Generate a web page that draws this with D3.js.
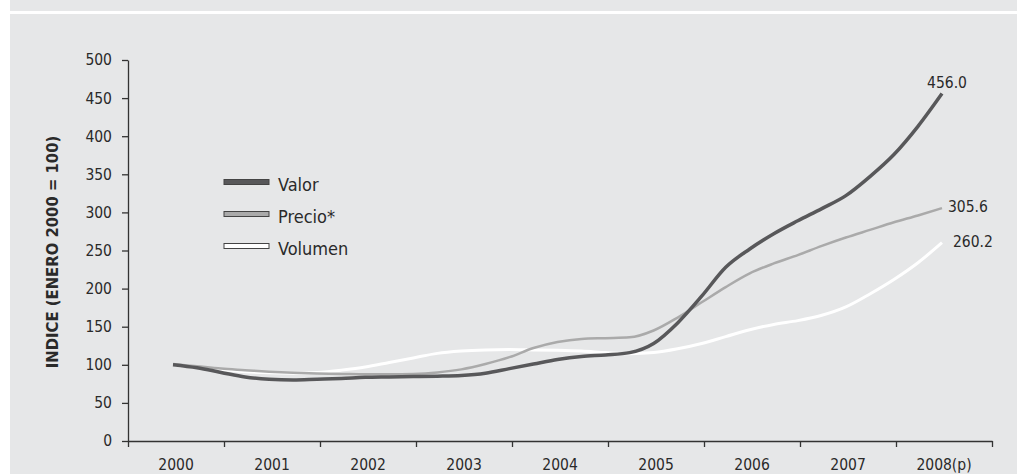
<!DOCTYPE html>
<html>
<head>
<meta charset="utf-8">
<script src="https://cdn.jsdelivr.net/npm/d3@7"></script>
<style>
  html, body { margin: 0; padding: 0; background: #ffffff; }
  svg { display: block; }
  text { font-family: "DejaVu Sans", sans-serif; font-stretch: condensed; fill: #2a2a2a; }
</style>
</head>
<body>
<svg id="chart" width="1017" height="474"></svg>
<script>
// ---- data ----
const categories = ["2000", "2001", "2002", "2003", "2004", "2005", "2006", "2007", "2008(p)"];
const yTicks = [0, 50, 100, 150, 200, 250, 300, 350, 400, 450, 500];
const times = [2000, 2000.25, 2000.5, 2000.75, 2001, 2001.25, 2001.5, 2001.75,
               2002, 2002.25, 2002.5, 2002.75, 2003, 2003.25, 2003.5, 2003.75,
               2004, 2004.25, 2004.5, 2004.75, 2005, 2005.25, 2005.5, 2005.75,
               2006, 2006.25, 2006.5, 2006.75, 2007, 2007.25, 2007.5, 2007.75, 2008];
const valor = [100, 96, 90, 84, 81, 80, 81, 82,
               83.5, 84, 84.5, 85, 86, 89, 95, 101,
               107, 111, 113, 116, 128, 155, 190, 228,
               252, 272, 289, 305, 322, 347, 376, 413, 456.0];
const precio = [101, 98, 95, 93, 91, 89.5, 88.5, 88,
                87.5, 87.5, 88, 90, 94, 101, 110, 122,
                130, 134, 135, 136, 145, 162, 182, 202,
                220, 233, 244, 256, 267, 277, 287, 296, 305.6];
const volumen = [100, 97, 94, 91, 89.5, 89, 90, 93,
                 97, 103, 109, 115, 118, 119.5, 120, 119.5,
                 119, 118, 116, 114.5, 116, 121, 128, 137,
                 146, 153, 158, 165, 176, 193, 212, 234, 260.2];
const seriesNames = ["Valor", "Precio*", "Volumen"];
const endLabels = ["456.0", "305.6", "260.2"];

// ---- styles ----
const colors = ["#58585a", "#aaaaaa", "#ffffff"];
const widths = [3.5, 2.5, 3];

const svg = d3.select("#chart");
const W = 1017, H = 474;

// background panels
svg.append("rect").attr("x", 10).attr("y", 0).attr("width", W - 10).attr("height", 11).attr("fill", "#e6e7e8");
svg.append("rect").attr("x", 10).attr("y", 14).attr("width", W - 10).attr("height", H - 14).attr("fill", "#e6e7e8");

const plot = { left: 128, right: 992, top: 60, bottom: 441 };

const xBand = d3.scaleBand().domain(categories).range([plot.left, plot.right]);
const xEdge = d3.scaleLinear().domain([0, categories.length]).range([plot.left, plot.right]);
const xTime = d3.scaleLinear().domain([2000, 2008])
  .range([xBand("2000") + xBand.bandwidth() / 2 - 3, xBand("2008(p)") + xBand.bandwidth() / 2 - 2]);
const y = d3.scaleLinear().domain([0, 500]).range([plot.bottom, plot.top]);

const FONT = "'DejaVu Sans', sans-serif";

// y axis
const yAxis = svg.append("g").attr("transform", `translate(${plot.left},0)`)
  .call(d3.axisLeft(y).tickValues(yTicks).tickSize(6).tickPadding(10).tickSizeOuter(0));
yAxis.select(".domain").attr("stroke", "#333").attr("stroke-width", 1.3);
yAxis.selectAll(".tick line").attr("stroke", "#333").attr("stroke-width", 1.3);
yAxis.selectAll("text").attr("font-size", 15.5).attr("fill", "#2a2a2a")
  .attr("font-family", FONT).style("font-stretch", "condensed");

// x axis tick marks at band edges
const xTickAxis = svg.append("g").attr("transform", `translate(0,${plot.bottom})`)
  .call(d3.axisBottom(xEdge).tickValues(d3.range(0, categories.length + 1)).tickSize(6).tickSizeOuter(0).tickFormat(""));
xTickAxis.select(".domain").attr("stroke", "#333").attr("stroke-width", 1.3);
xTickAxis.selectAll(".tick line").attr("stroke", "#333").attr("stroke-width", 1.3);

// x labels at band centers
const xLabAxis = svg.append("g").attr("transform", `translate(0,${plot.bottom})`)
  .call(d3.axisBottom(xBand).tickSize(0).tickPadding(18));
xLabAxis.select(".domain").remove();
xLabAxis.selectAll("text").attr("font-size", 15.5).attr("fill", "#2a2a2a")
  .attr("font-family", FONT).style("font-stretch", "condensed");

// y axis title
svg.append("text")
  .attr("transform", `translate(58,252) rotate(-90)`)
  .attr("text-anchor", "middle")
  .attr("font-size", 16.5)
  .attr("font-weight", "bold")
  .text("INDICE (ENERO 2000 = 100)");

// lines
const allSeries = [valor, precio, volumen];
const line = d3.line().x((d, i) => xTime(times[i])).y(d => y(d)).curve(d3.curveMonotoneX);
// draw order: volumen, precio, valor on top
[2, 1, 0].forEach(k => {
  svg.append("path")
    .datum(allSeries[k])
    .attr("d", line)
    .attr("fill", "none")
    .attr("stroke", colors[k])
    .attr("stroke-width", widths[k])
    .attr("stroke-linejoin", "round");
});

// end labels
const endOffsets = [[5, -6], [6, 4], [11, 4]];
const endAnchors = ["middle", "start", "start"];
allSeries.forEach((s, k) => {
  const last = s.length - 1;
  svg.append("text")
    .attr("x", xTime(times[last]) + endOffsets[k][0])
    .attr("y", y(s[last]) + endOffsets[k][1])
    .attr("text-anchor", endAnchors[k])
    .attr("font-size", 15.5)
    .text(endLabels[k]);
});

// legend
const legend = svg.append("g").attr("transform", "translate(224,182)");
seriesNames.forEach((name, k) => {
  const g = legend.append("g").attr("transform", `translate(0,${k * 32})`);
  g.append("rect").attr("x", 0).attr("y", -2.5).attr("width", 45).attr("height", 5)
    .attr("fill", colors[k]).attr("stroke", "#444").attr("stroke-width", 1);
  g.append("text").attr("x", 54).attr("y", 8.5).attr("font-size", 18).text(name);
});
</script>
</body>
</html>
